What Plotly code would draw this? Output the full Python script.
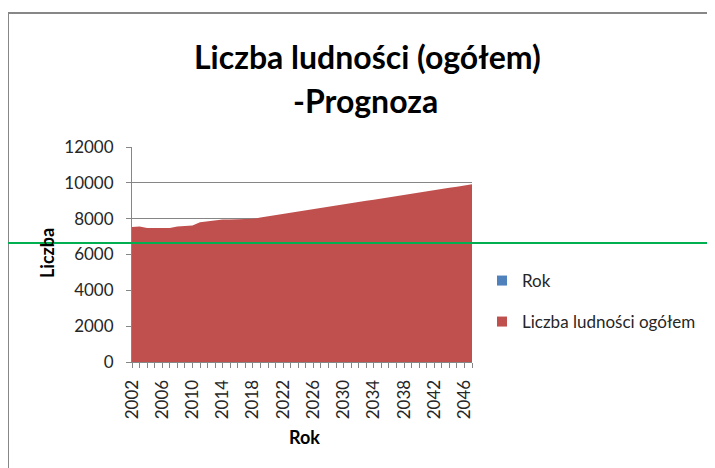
import plotly.graph_objects as go

# Lata prognozy i liczba ludności
years = list(range(2002, 2048))
population = [7530, 7560, 7480, 7470, 7470, 7480, 7560, 7600, 7620, 7800,
              7850, 7920, 7950, 7950, 7950, 7960, 7990, 8060, 8130, 8200,
              8270, 8330, 8400, 8470, 8530, 8600, 8670, 8730, 8800, 8870,
              8930, 9000, 9060, 9130, 9200, 9260, 9330, 9390, 9460, 9520,
              9590, 9650, 9720, 9780, 9850, 9920]
year_ticks = list(range(2002, 2047, 4))

blue = '#4F81BD'
red = '#C0504D'
font_name = 'Lato'

# the page body adds an 8px margin, so work in page pixels and shift
OFF = 8
W, H = 715 - OFF, 468 - OFF
# plot area in page pixels: x 132..472, y 147..362
L, R, T, B = 132 - OFF, 472 - OFF, 147 - OFF, 362 - OFF
def px(x):
    return (x - OFF - L) / (R - L)
def py(y):
    return (B - (y - OFF)) / (B - T)

fig = go.Figure()

# "Rok" series is drawn first, hidden behind the population area
fig.add_trace(go.Scatter(
    x=years, y=years, mode='lines', line=dict(width=0, color=blue),
    fill='tozeroy', fillcolor=blue, showlegend=False, hoverinfo='skip'
))
fig.add_trace(go.Scatter(
    x=years, y=population, mode='lines', line=dict(width=0, color=red),
    fill='tozeroy', fillcolor=red, showlegend=False,
    hovertemplate='%{x}: %{y}<extra></extra>'
))

# legend entries with square markers like in Excel
fig.add_trace(go.Scatter(
    x=[None], y=[None], mode='markers', name='Rok',
    marker=dict(symbol='square', size=10, color=blue), legend='legend'
))
fig.add_trace(go.Scatter(
    x=[None], y=[None], mode='markers', name='Liczba ludności ogółem',
    marker=dict(symbol='square', size=10, color=red), legend='legend2'
))

def label(text, x, y, size, angle=0):
    return dict(text=text, x=px(x), y=py(y), xref='paper', yref='paper',
                xanchor='center', yanchor='middle', showarrow=False,
                textangle=angle, font=dict(size=size, color='black'))

fig.update_layout(
    width=W, height=H,
    margin=dict(l=L, r=W - R, t=T, b=H - B, autoexpand=False),
    paper_bgcolor='white', plot_bgcolor='white',
    font=dict(family=font_name, size=17, color='#262626'),
    legend=dict(x=px(482), y=py(281), xanchor='left', yanchor='middle',
                font=dict(size=17, color='#262626'), bgcolor='rgba(0,0,0,0)'),
    legend2=dict(x=px(482), y=py(322), xanchor='left', yanchor='middle',
                 font=dict(size=17, color='#262626'), bgcolor='rgba(0,0,0,0)'),
    annotations=[
        label('<b>Liczba ludności (ogółem)</b>', 367, 57, 32),
        label('<b>-Prognoza</b>', 365, 100, 32),
        label('<b>Liczba</b>', 47, 253, 18, angle=-90),
        label('<b>Rok</b>', 304, 437, 18),
    ],
    shapes=[
        # chart frame
        dict(type='rect', xref='paper', yref='paper',
             x0=px(8), x1=px(760), y0=py(520), y1=py(13),
             line=dict(color='#878787', width=2), layer='below'),
        # green horizontal line
        dict(type='line', xref='paper', yref='paper',
             x0=px(8), x1=px(730), y0=py(243), y1=py(243),
             line=dict(color='#00B050', width=2)),
    ],
)

fig.update_xaxes(
    range=[2002, 2047], tickvals=year_ticks, ticktext=[str(y) for y in year_ticks],
    tickangle=-90, ticks='outside', ticklen=5, tickcolor='#868686',
    ticklabelstandoff=5,
    showline=True, linecolor='#868686', linewidth=1, showgrid=False,
    zeroline=False, tickfont=dict(size=17, color='#262626'),
    minor=dict(dtick=1, tick0=2002, ticks='outside', ticklen=5,
               tickcolor='#868686', showgrid=False)
)
fig.update_yaxes(
    range=[0, 12000], dtick=2000, tickformat='d', ticks='outside', ticklen=5,
    tickcolor='#868686', ticklabelstandoff=9,
    showline=True, linecolor='#868686', linewidth=1,
    showgrid=True, gridcolor='#868686', gridwidth=1, zeroline=False,
    tickfont=dict(size=17, color='#262626')
)

fig.write_html('out.html')
